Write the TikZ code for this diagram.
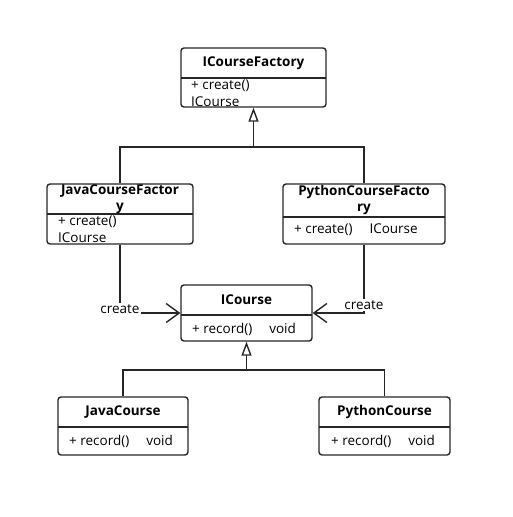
\documentclass[tikz,border=0pt]{standalone}
\usepackage{fontspec}
\setmainfont{Open Sans}
\usetikzlibrary{arrows.meta}
\begin{document}
\begin{tikzpicture}[x=1pt,y=-1pt,
  umlbox/.style={draw=black!85, line width=1.4pt, rounded corners=3pt, inner sep=0pt},
  divider/.style={draw=black!85, line width=1.4pt},
  ttl/.style={font=\fontsize{13.5}{16.5}\selectfont\bfseries, inner sep=0pt, align=center},
  body/.style={font=\fontsize{13.5}{16.5}\selectfont, inner sep=0pt, anchor=west, align=left},
  gen/.style={draw=black!85, line width=1.4pt, -{Triangle[open, length=14pt, width=10pt, fill=white]}},
  dep/.style={draw=black!85, line width=1.4pt, -{Straight Barb[length=13pt, width=19pt]}},
  lbl/.style={font=\fontsize{13.5}{16.5}\selectfont, fill=white, inner sep=1pt}]
\useasboundingbox (0,0) rectangle (513,517);
% ICourseFactory
\node[umlbox, minimum width=145pt, minimum height=59pt] (icf) at (253.5,77.5) {};
\draw[divider] (181,78) -- (326,78);
\node[ttl] (icft) at (253.5,63) {ICourseFactory};
\node[body] (icfb) at (191,93) {+ create()\\ICourse};
% JavaCourseFactory
\node[umlbox, minimum width=146pt, minimum height=60pt] (jf) at (120,214) {};
\draw[divider] (47,214) -- (193,214);
\node[ttl] (jft) at (120,199) {JavaCourseFactor\\y};
\node[body] (jfb) at (58,229) {+ create()\\ICourse};
% PythonCourseFactory
\node[umlbox, minimum width=162pt, minimum height=60pt] (pf) at (364,214) {};
\draw[divider] (283,217) -- (445,217);
\node[ttl] (pft) at (364,200) {PythonCourseFacto\\ry};
\node[body] (pfb) at (294,230) {+ create()\quad\ ICourse};
% ICourse
\node[umlbox, minimum width=131pt, minimum height=56pt] (ic) at (246.5,313) {};
\draw[divider] (181,315) -- (312,315);
\node[ttl] (ict) at (246.5,300) {ICourse};
\node[body] (icb) at (192,329) {+ record()\quad\ void};
% JavaCourse
\node[umlbox, minimum width=130pt, minimum height=58pt] (jc) at (123,426) {};
\draw[divider] (58,427) -- (188,427);
\node[ttl] (jct) at (123,412) {JavaCourse};
\node[body] (jcb) at (69,441) {+ record()\quad\ void};
% PythonCourse
\node[umlbox, minimum width=131pt, minimum height=58pt] (pc) at (384.5,426) {};
\draw[divider] (319,427) -- (450,427);
\node[ttl] (pct) at (384.5,412) {PythonCourse};
\node[body] (pcb) at (331,441) {+ record()\quad\ void};
% connectors
\coordinate (j1) at (253.5,147);
\coordinate (j2) at (246.5,370);
\draw[gen] (jf.north) |- (j1) -- (icf.south);
\draw[draw=black!85, line width=1.4pt] (pf.north) |- (j1);
\draw[gen] (jc.north) |- (j2) -- (ic.south);
\draw[draw=black!85, line width=1.4pt] (pc.north) |- (j2);
\draw[dep] (jf.south) |- (ic.west);
\draw[dep] (pf.south) |- (ic.east);
\node[lbl] (c1) at (120,309) {create};
\node[lbl] (c2) at (364,305) {create};
\end{tikzpicture}
\end{document}
